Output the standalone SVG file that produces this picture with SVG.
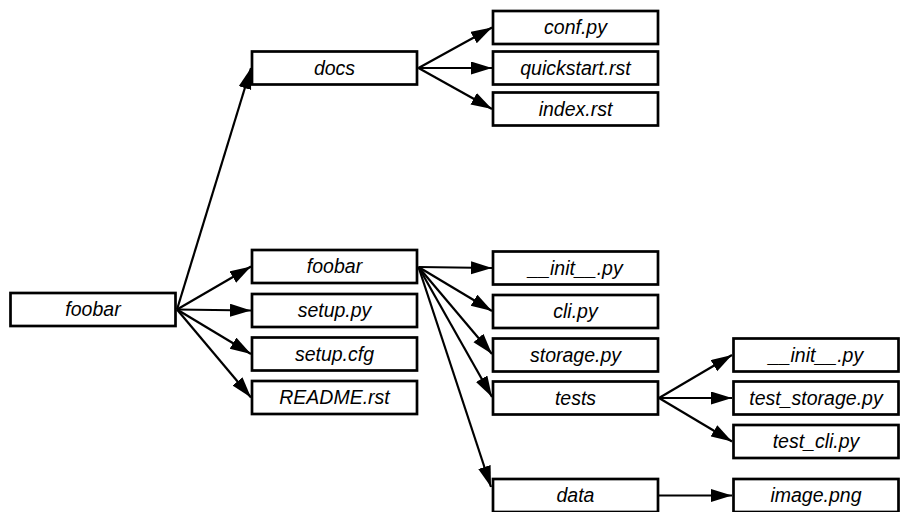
<svg xmlns="http://www.w3.org/2000/svg" width="902" height="512" viewBox="0 0 902 512">
<style>
.box{fill:#fff;stroke:#000;stroke-width:2.7}
.lbl{font-family:"Liberation Sans",Arial,sans-serif;font-style:italic;font-size:19.5px;fill:#000;text-anchor:middle}
.edge{stroke:#000;stroke-width:2.2;fill:none;marker-end:url(#ah)}
</style>
<defs>
<marker id="ah" markerUnits="userSpaceOnUse" markerWidth="24" markerHeight="14" refX="21" refY="6.5" orient="auto">
<path d="M0,0 L21,6.5 L0,13 z" fill="#000"/>
</marker>
</defs>
<rect width="902" height="512" fill="#fff"/>
<g id="edges">
<line class="edge" x1="177" y1="309.5" x2="251" y2="68"/>
<line class="edge" x1="177" y1="309.5" x2="251" y2="266.5"/>
<line class="edge" x1="177" y1="309.5" x2="251" y2="310.5"/>
<line class="edge" x1="177" y1="309.5" x2="251" y2="354"/>
<line class="edge" x1="177" y1="309.5" x2="251" y2="397.5"/>
<line class="edge" x1="418.5" y1="68" x2="492" y2="27.5"/>
<line class="edge" x1="418.5" y1="68" x2="492" y2="68"/>
<line class="edge" x1="418.5" y1="68" x2="492" y2="109"/>
<line class="edge" x1="418.5" y1="267" x2="492" y2="268"/>
<line class="edge" x1="418.5" y1="267" x2="492" y2="311"/>
<line class="edge" x1="418.5" y1="267" x2="492" y2="354"/>
<line class="edge" x1="418.5" y1="267" x2="492" y2="397"/>
<line class="edge" x1="418.5" y1="267" x2="491" y2="487"/>
<line class="edge" x1="659" y1="398" x2="732" y2="355"/>
<line class="edge" x1="659" y1="398" x2="732" y2="398"/>
<line class="edge" x1="659" y1="398" x2="732" y2="441.5"/>
<line class="edge" x1="659" y1="495.5" x2="732" y2="495.5"/>
</g>
<g id="root"><rect class="box" x="10.5" y="293" width="165" height="33"/><text class="lbl" x="93" y="316">foobar</text></g>
<g id="docs"><rect class="box" x="252" y="51.5" width="165" height="33"/><text class="lbl" x="334.5" y="74.5">docs</text></g>
<g id="pkg"><rect class="box" x="252" y="250" width="165" height="33"/><text class="lbl" x="334.5" y="273">foobar</text></g>
<g id="setup_py"><rect class="box" x="252" y="294" width="165" height="33"/><text class="lbl" x="334.5" y="317">setup.py</text></g>
<g id="setup_cfg"><rect class="box" x="252" y="337.5" width="165" height="33"/><text class="lbl" x="334.5" y="360.5">setup.cfg</text></g>
<g id="readme"><rect class="box" x="252" y="381" width="165" height="33"/><text class="lbl" x="334.5" y="404">README.rst</text></g>
<g id="conf"><rect class="box" x="493" y="11" width="165" height="33"/><text class="lbl" x="575.5" y="34">conf.py</text></g>
<g id="quickstart"><rect class="box" x="493" y="51.5" width="165" height="33"/><text class="lbl" x="575.5" y="74.5">quickstart.rst</text></g>
<g id="index"><rect class="box" x="493" y="92.5" width="165" height="33"/><text class="lbl" x="575.5" y="115.5">index.rst</text></g>
<g id="init1"><rect class="box" x="493" y="251.5" width="165" height="33"/><text class="lbl" x="575.5" y="274.5">__init__.py</text></g>
<g id="cli"><rect class="box" x="493" y="295" width="165" height="33"/><text class="lbl" x="575.5" y="318">cli.py</text></g>
<g id="storage"><rect class="box" x="493" y="338.5" width="165" height="33"/><text class="lbl" x="575.5" y="361.5">storage.py</text></g>
<g id="tests"><rect class="box" x="493" y="381.5" width="165" height="33"/><text class="lbl" x="575.5" y="404.5">tests</text></g>
<g id="data"><rect class="box" x="493" y="479" width="165" height="33"/><text class="lbl" x="575.5" y="502">data</text></g>
<g id="init2"><rect class="box" x="733.5" y="338.5" width="165" height="33"/><text class="lbl" x="816" y="361.5">__init__.py</text></g>
<g id="test_storage"><rect class="box" x="733.5" y="381.5" width="165" height="33"/><text class="lbl" x="816" y="404.5">test_storage.py</text></g>
<g id="test_cli"><rect class="box" x="733.5" y="425" width="165" height="33"/><text class="lbl" x="816" y="448">test_cli.py</text></g>
<g id="image"><rect class="box" x="733.5" y="479" width="165" height="33"/><text class="lbl" x="816" y="502">image.png</text></g>
</svg>
